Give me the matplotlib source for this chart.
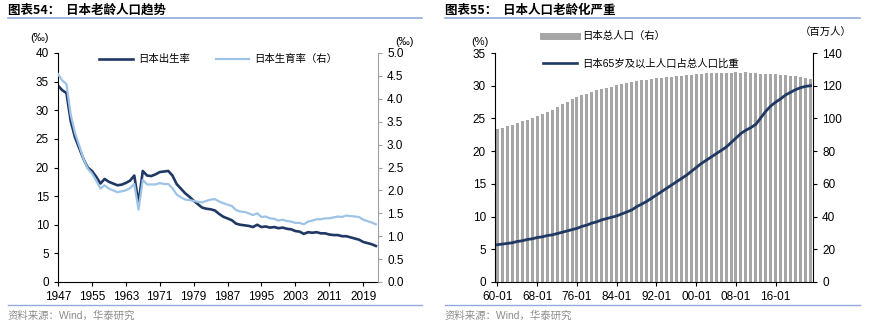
import matplotlib
matplotlib.use("Agg")
import matplotlib.pyplot as plt
from matplotlib.lines import Line2D

plt.rcParams['font.family'] = ['Liberation Sans', 'Noto Sans CJK SC', 'DejaVu Sans']

# Japan birth rate (per mille) and total fertility rate, 1947-2022
years = list(range(1947, 2023))
birth_rate = [34.3, 33.5, 33.0, 28.1, 25.3, 23.4, 21.5, 20.0, 19.4, 18.4,
              17.2, 18.0, 17.5, 17.2, 16.9, 17.0, 17.3, 17.7, 18.6, 13.7,
              19.4, 18.6, 18.5, 18.8, 19.2, 19.3, 19.4, 18.6, 17.1, 16.3,
              15.5, 14.9, 14.2, 13.6, 13.0, 12.8, 12.7, 12.5, 11.9, 11.4,
              11.1, 10.8, 10.2, 10.0, 9.9, 9.8, 9.6, 10.0, 9.6, 9.7,
              9.5, 9.6, 9.4, 9.5, 9.3, 9.2, 8.9, 8.8, 8.4, 8.7,
              8.6, 8.7, 8.5, 8.5, 8.3, 8.2, 8.2, 8.0, 8.0, 7.8,
              7.6, 7.4, 7.0, 6.8, 6.6, 6.3]
fertility = [4.54, 4.40, 4.32, 3.65, 3.26, 2.98, 2.69, 2.48, 2.37, 2.22,
             2.04, 2.11, 2.04, 2.00, 1.96, 1.98, 2.00, 2.05, 2.14, 1.58,
             2.23, 2.13, 2.13, 2.13, 2.16, 2.14, 2.14, 2.05, 1.91, 1.85,
             1.80, 1.79, 1.77, 1.75, 1.74, 1.77, 1.80, 1.81, 1.76, 1.72,
             1.69, 1.66, 1.57, 1.54, 1.53, 1.50, 1.46, 1.50, 1.42, 1.43,
             1.39, 1.38, 1.34, 1.36, 1.33, 1.32, 1.29, 1.29, 1.26, 1.32,
             1.34, 1.37, 1.37, 1.39, 1.39, 1.41, 1.43, 1.42, 1.45, 1.44,
             1.43, 1.42, 1.36, 1.33, 1.30, 1.26]

# Japan total population (millions) and share aged 65+ (%), 1960-2023
pop_years = list(range(1960, 2024))
population = [93.4, 94.3, 95.2, 96.2, 97.2, 98.3, 99.1, 100.2, 101.3, 102.5,
              103.7, 105.0, 107.2, 108.7, 110.2, 111.9, 113.1, 114.2, 115.2, 116.1,
              117.1, 117.9, 118.7, 119.5, 120.3, 121.0, 121.7, 122.3, 122.8, 123.3,
              123.6, 124.1, 124.6, 124.9, 125.3, 125.6, 125.9, 126.2, 126.5, 126.7,
              126.9, 127.3, 127.5, 127.7, 127.8, 127.8, 127.9, 128.0, 128.1, 128.0,
              128.1, 127.8, 127.6, 127.4, 127.2, 127.1, 127.0, 126.8, 126.4, 126.2,
              126.1, 125.5, 124.9, 124.4]
aged_share = [5.7, 5.8, 5.9, 6.0, 6.2, 6.3, 6.5, 6.6, 6.8, 6.9,
              7.1, 7.2, 7.4, 7.6, 7.8, 8.0, 8.2, 8.5, 8.7, 9.0,
              9.2, 9.5, 9.7, 9.9, 10.1, 10.4, 10.7, 11.0, 11.5, 11.9,
              12.3, 12.8, 13.3, 13.8, 14.3, 14.8, 15.3, 15.8, 16.3, 16.9,
              17.5, 18.1, 18.6, 19.1, 19.6, 20.1, 20.6, 21.3, 22.0, 22.7,
              23.2, 23.6, 24.1, 25.1, 26.1, 26.9, 27.5, 28.0, 28.6, 29.0,
              29.4, 29.7, 29.9, 30.0]
pop_labels = ['%02d-01' % (y % 100) for y in pop_years]

navy = '#1F3864'
light = '#9DC3E6'
gray_bar = '#A6A6A6'
rule = '#8FAADC'
fs = 8.5

fig = plt.figure(figsize=(8.7, 3.28), dpi=100)

def px(x, y):
    return x / 870, 1 - y / 328

def style(ax, ax2, right_color):
    for a in (ax, ax2):
        a.spines['top'].set_visible(False)
        a.tick_params(labelsize=fs, length=3, width=0.8)
    ax.spines['right'].set_visible(False)
    ax2.spines['left'].set_visible(False)
    ax2.spines['bottom'].set_visible(False)
    ax2.spines['right'].set_color(right_color)
    ax2.tick_params(axis='y', colors=right_color, labelcolor='black')

# ---------- left panel ----------
ax = fig.add_axes([58 / 870, 46 / 328, 320 / 870, 229 / 328])
ax2 = ax.twinx()
ax.plot(years, birth_rate, color=navy, lw=1.9)
ax2.plot(years, fertility, color=light, lw=1.6)
ax.set_xlim(1947, 2022.5)
ax.set_ylim(0, 40)
ax2.set_ylim(0, 5)
ax.set_xticks(range(1947, 2023, 8))
ax.set_yticks(range(0, 41, 5))
ax2.set_yticks([i * 0.5 for i in range(11)])
ax2.set_yticklabels(['%.1f' % (i * 0.5) for i in range(11)])
style(ax, ax2, '#A0A0A0')
ax.legend(handles=[Line2D([], [], color=navy, lw=1.9), Line2D([], [], color=light, lw=1.6)],
          labels=['日本出生率', '日本生育率（右）'], ncol=2, frameon=False,
          loc='upper left', bbox_to_anchor=(0.1, 1.035), fontsize=7.5,
          handlelength=3.2, columnspacing=2.5, handletextpad=0.5)
fig.text(*px(40, 38), '(‰)', fontsize=8, ha='center', va='center')
fig.text(*px(405, 42), '(‰)', fontsize=8, ha='center', va='center')

# ---------- right panel ----------
bx = fig.add_axes([495 / 870, 46 / 328, 318 / 870, 229 / 328])
bx2 = bx.twinx()
idx = list(range(len(pop_years)))
bx2.bar(idx, population, width=0.6, color=gray_bar)
bx.plot(idx, aged_share, color=navy, lw=2.0)
bx.set_zorder(bx2.get_zorder() + 1)
bx.patch.set_visible(False)
bx.set_xlim(-0.5, len(pop_years) - 0.5)
bx.set_ylim(0, 35)
bx2.set_ylim(0, 140)
bx.set_xticks(idx[::8])
bx.set_xticklabels(pop_labels[::8])
bx.set_yticks(range(0, 36, 5))
bx2.set_yticks(range(0, 141, 20))
style(bx, bx2, 'black')
fig.legend(handles=[Line2D([], [], color=gray_bar, lw=5), Line2D([], [], color=navy, lw=1.9)],
           labels=['日本总人口（右）', '日本65岁及以上人口占总人口比重'], frameon=False,
           loc='upper left', bbox_to_anchor=px(534, 22), fontsize=7.5,
           handlelength=3.2, handletextpad=0.5, labelspacing=1.6)
fig.text(*px(480, 42), '(%)', fontsize=8, ha='center', va='center')
fig.text(*px(826, 32), '（百万人）', fontsize=7.5, ha='center', va='center')

# ---------- titles, rules, sources ----------
for x0, x1, title in [(8, 422, '图表54：  日本老龄人口趋势'), (445, 860, '图表55：  日本人口老龄化严重')]:
    fig.text(*px(x0, 10), title, fontsize=9, fontweight='bold', ha='left', va='center',
             family=['Noto Sans CJK SC'])
    fig.add_artist(Line2D([x0 / 870, x1 / 870], [1 - 18 / 328] * 2, color=rule, lw=1.2))
    fig.add_artist(Line2D([x0 / 870, x1 / 870], [1 - 305 / 328] * 2, color=rule, lw=1.0))
    fig.text(*px(x0, 316), '资料来源：Wind，华泰研究', fontsize=7.5, color='#8C8C8C',
             ha='left', va='center')

fig.savefig('out.png', dpi=100)
